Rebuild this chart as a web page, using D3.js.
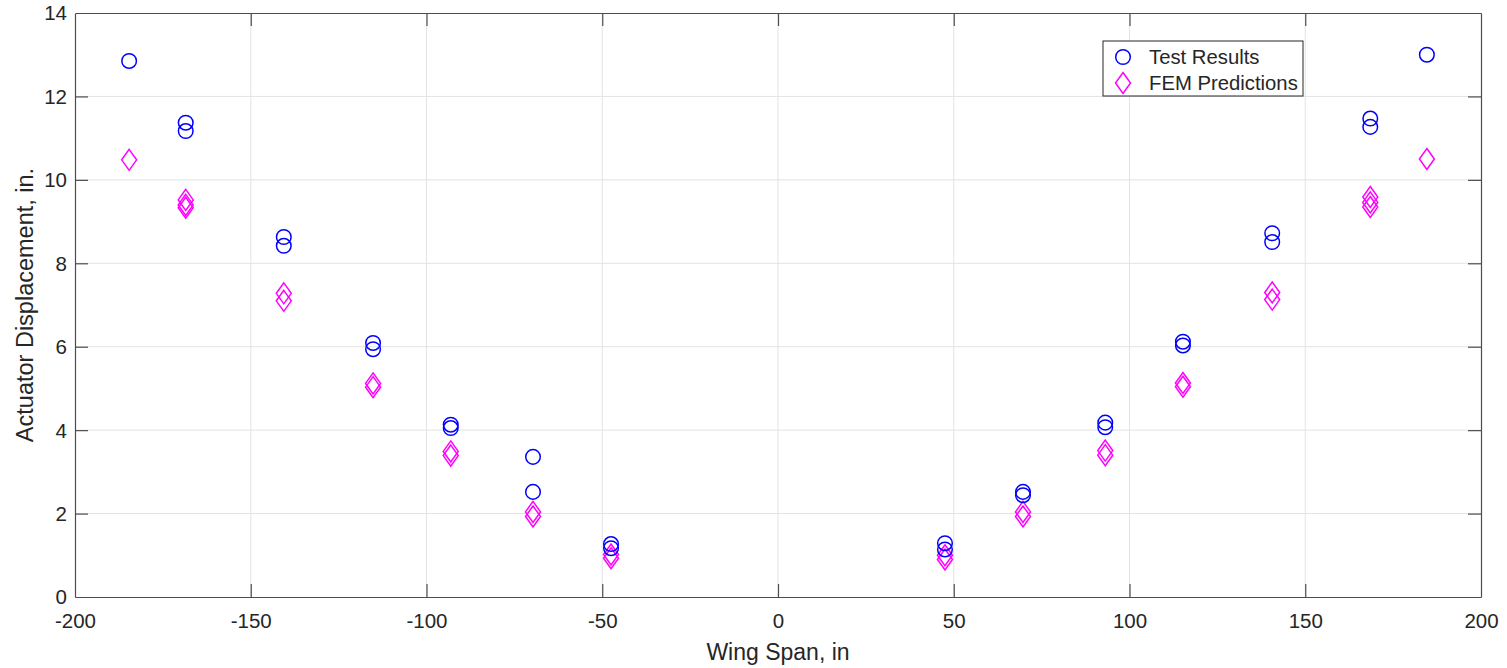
<!DOCTYPE html>
<head>
	<meta charset="utf-8" />
	<style>
		body {
			margin: 0;
			background-color: #fff;
			font-family: 'Liberation Sans', Arial, sans-serif;
		}
		text {
			fill: #262626;
		}
	</style>
</head>
<body>
	<div id="chart-area"></div>
	<script src="https://cdnjs.cloudflare.com/ajax/libs/d3/7.8.5/d3.min.js"></script>
	<script>
		// test results (span in inches, displacement in inches)
		const testSpan = [
			-184.6, -168.5, -168.5, -140.6, -140.6, -115.2, -115.2, -93.1, -93.1,
			-69.7, -69.7, -47.5, -47.5,
			47.5, 47.5, 69.7, 69.7, 93.1, 93.1, 115.2, 115.2, 140.6, 140.6,
			168.5, 168.5, 184.6
		];
		const testValue = [
			12.85, 11.37, 11.17, 8.63, 8.42, 6.09, 5.94, 4.13, 4.05,
			3.36, 2.52, 1.27, 1.17,
			1.29, 1.14, 2.52, 2.44, 4.18, 4.07, 6.12, 6.03, 8.72, 8.51,
			11.47, 11.27, 13.0
		];
		// FEM predictions
		const femSpan = [
			-184.6, -168.5, -168.5, -168.5, -140.6, -140.6, -115.2, -115.2,
			-93.1, -93.1, -69.7, -69.7, -47.5, -47.5,
			47.5, 47.5, 69.7, 69.7, 93.1, 93.1, 115.2, 115.2, 140.6, 140.6,
			168.5, 168.5, 168.5, 184.6
		];
		const femValue = [
			10.48, 9.52, 9.4, 9.33, 7.28, 7.1, 5.12, 5.03,
			3.49, 3.39, 2.04, 1.93, 1.02, 0.93,
			1.0, 0.9, 2.04, 1.93, 3.51, 3.4, 5.13, 5.04, 7.3, 7.13,
			9.59, 9.46, 9.35, 10.5
		];
		const xTicks = [-200, -150, -100, -50, 0, 50, 100, 150, 200];
		const yTicks = [0, 2, 4, 6, 8, 10, 12, 14];
		const legendLabels = ['Test Results', 'FEM Predictions'];

		const W = 1507, H = 668;
		const margins = { top: 13, right: 26, bottom: 71, left: 75 };

		const svg = d3.select('#chart-area').append('svg')
			.attr('width', W)
			.attr('height', H);

		const x = d3.scaleLinear().domain([-200, 200]).range([margins.left, W - margins.right]);
		const y = d3.scaleLinear().domain([0, 14]).range([H - margins.bottom, margins.top]);

		// grid
		svg.append('g').selectAll('line.gx')
			.data(xTicks.slice(1, -1))
			.join('line')
			.attr('x1', d => x(d)).attr('x2', d => x(d))
			.attr('y1', y(0)).attr('y2', y(14))
			.attr('stroke', '#e3e3e3').attr('stroke-width', 1);
		svg.append('g').selectAll('line.gy')
			.data(yTicks.slice(1, -1))
			.join('line')
			.attr('x1', x(-200)).attr('x2', x(200))
			.attr('y1', d => y(d)).attr('y2', d => y(d))
			.attr('stroke', '#e3e3e3').attr('stroke-width', 1);

		// axes (ticks inside, box on)
		const tickLen = 13;
		const axisColor = '#4d4d4d';
		const plain = d => String(d); // hyphen minus, like the original
		const axB = svg.append('g').attr('transform', `translate(0,${y(0)})`)
			.call(d3.axisBottom(x).tickValues(xTicks).tickFormat(plain).tickSizeInner(-tickLen).tickSizeOuter(0));
		const axT = svg.append('g').attr('transform', `translate(0,${y(14)})`)
			.call(d3.axisTop(x).tickValues(xTicks).tickSizeInner(-tickLen).tickSizeOuter(0).tickFormat(''));
		const axL = svg.append('g').attr('transform', `translate(${x(-200)},0)`)
			.call(d3.axisLeft(y).tickValues(yTicks).tickFormat(plain).tickSizeInner(-tickLen).tickSizeOuter(0).tickPadding(8));
		const axR = svg.append('g').attr('transform', `translate(${x(200)},0)`)
			.call(d3.axisRight(y).tickValues(yTicks).tickSizeInner(-tickLen).tickSizeOuter(0).tickFormat(''));

		[axB, axT, axL, axR].forEach(g => {
			g.select('.domain').attr('stroke', axisColor).attr('stroke-width', 1.2);
			g.selectAll('.tick line').attr('stroke', axisColor).attr('stroke-width', 1.2);
			g.selectAll('.tick text')
				.attr('fill', '#262626')
				.style('font-family', "'Liberation Sans', Arial, sans-serif")
				.style('font-size', '20.5px');
		});
		axB.selectAll('.tick text').attr('y', 31).attr('dy', 0);
		axL.selectAll('.tick text').attr('dy', '0.34em');
		// drop the corner ticks that sit on the box edges
		axB.selectAll('.tick line').filter(d => d === -200 || d === 200).remove();
		axT.selectAll('.tick line').filter(d => d === -200 || d === 200).remove();
		axL.selectAll('.tick line').filter(d => d === 0 || d === 14).remove();
		axR.selectAll('.tick line').filter(d => d === 0 || d === 14).remove();

		// axis labels
		svg.append('text')
			.attr('x', (x(-200) + x(200)) / 2)
			.attr('y', 660)
			.attr('text-anchor', 'middle')
			.style('font-size', '23px')
			.text('Wing Span, in');
		svg.append('text')
			.attr('transform', `translate(33,${(y(0) + y(14)) / 2}) rotate(-90)`)
			.attr('text-anchor', 'middle')
			.style('font-size', '23.5px')
			.text('Actuator Displacement, in.');

		const diamond = (cx, cy) => {
			const w = 7.5, h = 10.5;
			return `M${cx},${cy - h}L${cx + w},${cy}L${cx},${cy + h}L${cx - w},${cy}Z`;
		};

		// markers
		svg.append('g').selectAll('path')
			.data(d3.zip(femSpan, femValue))
			.join('path')
			.attr('d', d => diamond(x(d[0]), y(d[1])))
			.attr('fill', 'none')
			.attr('stroke', '#ff00ff')
			.attr('stroke-width', 1.5);

		svg.append('g').selectAll('circle')
			.data(d3.zip(testSpan, testValue))
			.join('circle')
			.attr('cx', d => x(d[0]))
			.attr('cy', d => y(d[1]))
			.attr('r', 7.3)
			.attr('fill', 'none')
			.attr('stroke', '#0000ff')
			.attr('stroke-width', 1.5);

		// legend
		const lg = svg.append('g').attr('transform', 'translate(1103,41)');
		lg.append('rect')
			.attr('width', 200).attr('height', 55)
			.attr('fill', '#fff')
			.attr('stroke', '#262626').attr('stroke-width', 1);
		lg.append('circle')
			.attr('cx', 20).attr('cy', 16).attr('r', 7.3)
			.attr('fill', 'none').attr('stroke', '#0000ff').attr('stroke-width', 1.5);
		lg.append('path')
			.attr('d', diamond(20, 42))
			.attr('fill', 'none').attr('stroke', '#ff00ff').attr('stroke-width', 1.5);
		lg.selectAll('text')
			.data(legendLabels)
			.join('text')
			.attr('x', 46)
			.attr('y', (d, i) => 16 + i * 26)
			.attr('dy', '0.36em')
			.style('font-size', '20.3px')
			.text(d => d);
	</script>
</body>
